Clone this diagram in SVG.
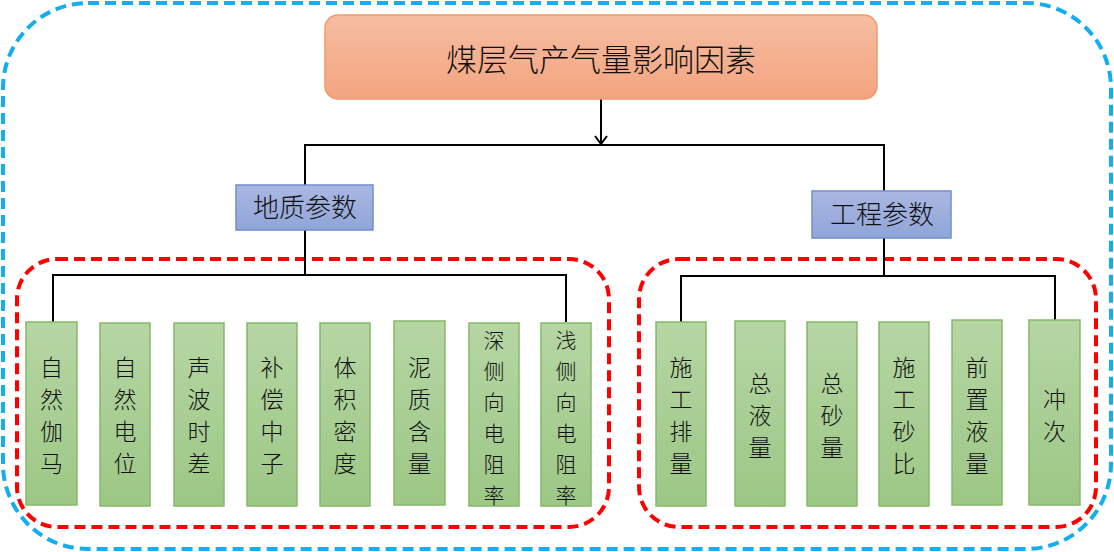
<svg xmlns="http://www.w3.org/2000/svg" width="1114" height="552" viewBox="0 0 1114 552">
<defs>
<linearGradient id="gTop" x1="0" y1="0" x2="0" y2="1"><stop offset="0" stop-color="#f6bda2"/><stop offset="1" stop-color="#f4a47f"/></linearGradient>
<linearGradient id="gBlue" x1="0" y1="0" x2="0" y2="1"><stop offset="0" stop-color="#aab8e2"/><stop offset="1" stop-color="#90a4d8"/></linearGradient>
<linearGradient id="gGreen" x1="0" y1="0" x2="0" y2="1"><stop offset="0" stop-color="#b6d6a4"/><stop offset="1" stop-color="#9cc785"/></linearGradient>
<marker id="arr" markerWidth="14" markerHeight="14" refX="12" refY="7" orient="auto" markerUnits="userSpaceOnUse">
<polyline points="4,1 12,7 4,13" fill="none" stroke="#000" stroke-width="2"/>
</marker>
<style>
.t{font-family:"Noto Sans CJK SC","Noto Sans",sans-serif;fill:#111;text-anchor:middle;font-weight:300}
.leaf rect{fill:url(#gGreen);stroke:#86b86a;stroke-width:1.5}
.leaf text{font-size:23px}
.leaf text.s{font-size:21px}
.cat rect{fill:url(#gBlue);stroke:#6f8fcf;stroke-width:1.5}
.conn{fill:none;stroke:#000;stroke-width:2}
.dashB{fill:none;stroke:#13adf0;stroke-width:4;stroke-dasharray:11 6}
.dashR{fill:none;stroke:#ff0000;stroke-width:4;stroke-dasharray:11 6}
</style>
</defs>
<rect width="1114" height="552" fill="#fff"/>
<rect id="outer" class="dashB" x="3" y="3" width="1108" height="546" rx="85" ry="85"/>
<rect id="groupGeo" class="dashR" x="17" y="259" width="592" height="268" rx="40" ry="40"/>
<rect id="groupEng" class="dashR" x="639" y="259" width="457" height="268" rx="40" ry="40"/>

<g id="connectors" class="conn">
<line x1="601" y1="99" x2="601" y2="144" marker-end="url(#arr)"/>
<polyline points="305,185 305,145 884,145 884,191"/>
<polyline points="305,230 305,275"/>
<polyline points="53,322 53,275 566,275 566,322"/>
<polyline points="884,238 884,276"/>
<polyline points="681,322 681,276 1055,276 1055,320"/>
</g>

<g id="root">
<rect x="325" y="15" width="552" height="84" rx="13" ry="13" fill="url(#gTop)" stroke="#f29a68" stroke-width="1.5"/>
<text class="t" x="601" y="71" font-size="31">煤层气产气量影响因素</text>
</g>

<g id="geo" class="cat">
<rect x="236" y="185" width="137" height="45"/>
<text class="t" x="305" y="217" font-size="26">地质参数</text>
</g>
<g id="eng" class="cat">
<rect x="812" y="191" width="139" height="47"/>
<text class="t" x="882" y="224" font-size="26">工程参数</text>
</g>

<g id="n1" class="leaf"><rect x="26" y="322" width="51" height="183"/><text class="t"><tspan x="51.5" y="376">自</tspan><tspan x="51.5" y="408">然</tspan><tspan x="51.5" y="440">伽</tspan><tspan x="51.5" y="472">马</tspan></text></g>
<g id="n2" class="leaf"><rect x="100" y="323" width="50" height="183"/><text class="t"><tspan x="125" y="376">自</tspan><tspan x="125" y="408">然</tspan><tspan x="125" y="440">电</tspan><tspan x="125" y="472">位</tspan></text></g>
<g id="n3" class="leaf"><rect x="174" y="323" width="50" height="183"/><text class="t"><tspan x="199" y="376">声</tspan><tspan x="199" y="408">波</tspan><tspan x="199" y="440">时</tspan><tspan x="199" y="472">差</tspan></text></g>
<g id="n4" class="leaf"><rect x="247" y="323" width="50" height="183"/><text class="t"><tspan x="272" y="376">补</tspan><tspan x="272" y="408">偿</tspan><tspan x="272" y="440">中</tspan><tspan x="272" y="472">子</tspan></text></g>
<g id="n5" class="leaf"><rect x="320" y="323" width="50" height="183"/><text class="t"><tspan x="345" y="376">体</tspan><tspan x="345" y="408">积</tspan><tspan x="345" y="440">密</tspan><tspan x="345" y="472">度</tspan></text></g>
<g id="n6" class="leaf"><rect x="394" y="321" width="51" height="184"/><text class="t"><tspan x="419.5" y="376">泥</tspan><tspan x="419.5" y="408">质</tspan><tspan x="419.5" y="440">含</tspan><tspan x="419.5" y="472">量</tspan></text></g>
<g id="n7" class="leaf"><rect x="469" y="323" width="50" height="183"/><text class="t s"><tspan x="494" y="348">深</tspan><tspan x="494" y="379">侧</tspan><tspan x="494" y="410">向</tspan><tspan x="494" y="441">电</tspan><tspan x="494" y="472">阻</tspan><tspan x="494" y="503">率</tspan></text></g>
<g id="n8" class="leaf"><rect x="541" y="323" width="50" height="183"/><text class="t s"><tspan x="566" y="348">浅</tspan><tspan x="566" y="379">侧</tspan><tspan x="566" y="410">向</tspan><tspan x="566" y="441">电</tspan><tspan x="566" y="472">阻</tspan><tspan x="566" y="503">率</tspan></text></g>

<g id="m1" class="leaf"><rect x="656" y="322" width="50" height="184"/><text class="t"><tspan x="681" y="376">施</tspan><tspan x="681" y="408">工</tspan><tspan x="681" y="440">排</tspan><tspan x="681" y="472">量</tspan></text></g>
<g id="m2" class="leaf"><rect x="735" y="321" width="50" height="185"/><text class="t"><tspan x="760" y="392">总</tspan><tspan x="760" y="424">液</tspan><tspan x="760" y="456">量</tspan></text></g>
<g id="m3" class="leaf"><rect x="807" y="322" width="50" height="184"/><text class="t"><tspan x="832" y="392">总</tspan><tspan x="832" y="424">砂</tspan><tspan x="832" y="456">量</tspan></text></g>
<g id="m4" class="leaf"><rect x="879" y="322" width="50" height="184"/><text class="t"><tspan x="904" y="376">施</tspan><tspan x="904" y="408">工</tspan><tspan x="904" y="440">砂</tspan><tspan x="904" y="472">比</tspan></text></g>
<g id="m5" class="leaf"><rect x="952" y="320" width="50" height="185"/><text class="t"><tspan x="977" y="376">前</tspan><tspan x="977" y="408">置</tspan><tspan x="977" y="440">液</tspan><tspan x="977" y="472">量</tspan></text></g>
<g id="m6" class="leaf"><rect x="1029" y="320" width="51" height="185"/><text class="t"><tspan x="1054.5" y="408">冲</tspan><tspan x="1054.5" y="440">次</tspan></text></g>
</svg>
